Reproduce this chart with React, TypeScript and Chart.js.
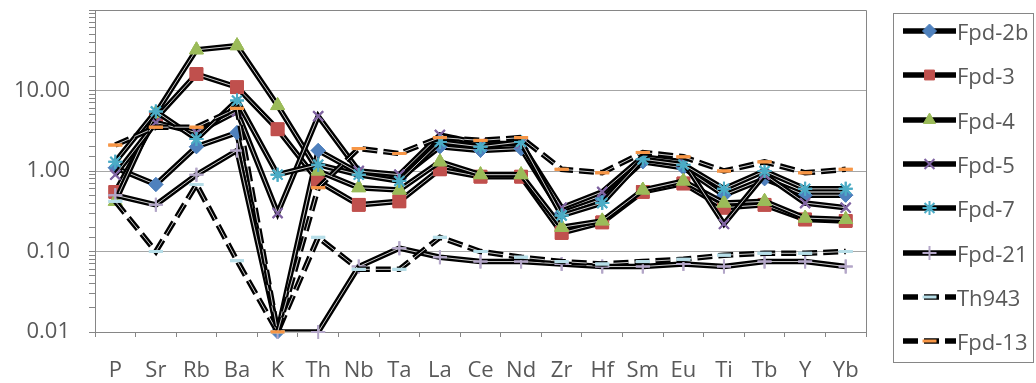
import React, { useEffect, useRef } from 'react';
import { Chart, registerables } from 'chart.js';
import { drawPoint } from 'chart.js/helpers';

Chart.register(...registerables);

const categories = ['P', 'Sr', 'Rb', 'Ba', 'K', 'Th', 'Nb', 'Ta', 'La', 'Ce', 'Nd', 'Zr', 'Hf', 'Sm', 'Eu', 'Ti', 'Tb', 'Y', 'Yb'];
const seriesNames = ['Fpd-2b', 'Fpd-3', 'Fpd-4', 'Fpd-5', 'Fpd-7', 'Fpd-21', 'Th943', 'Fpd-13'];

const fpd2b = [1.1, 0.68, 2.0, 3.0, 0.01, 1.8, 0.95, 0.8, 2.0, 1.8, 1.9, 0.3, 0.45, 1.3, 1.1, 0.5, 0.8, 0.5, 0.5];
const fpd3 = [0.55, 4.5, 16, 11, 3.3, 0.75, 0.38, 0.42, 1.05, 0.85, 0.85, 0.17, 0.23, 0.55, 0.7, 0.35, 0.38, 0.25, 0.24];
const fpd4 = [0.42, 5.2, 32, 36, 6.5, 1.0, 0.62, 0.58, 1.3, 0.9, 0.9, 0.2, 0.24, 0.58, 0.75, 0.4, 0.42, 0.26, 0.25];
const fpd5 = [0.9, 4.0, 3.0, 5.5, 0.3, 4.8, 1.0, 0.9, 2.8, 2.2, 2.2, 0.35, 0.55, 1.5, 1.3, 0.22, 0.9, 0.4, 0.35];
const fpd7 = [1.3, 5.5, 2.5, 7.5, 0.9, 1.2, 0.9, 0.75, 2.3, 2.0, 2.3, 0.28, 0.4, 1.4, 1.2, 0.6, 1.0, 0.6, 0.6];
const fpd21 = [0.5, 0.38, 0.9, 1.8, 0.01, 0.01, 0.065, 0.11, 0.085, 0.075, 0.075, 0.07, 0.065, 0.065, 0.07, 0.065, 0.075, 0.075, 0.065];
const th943 = [0.42, 0.1, 0.68, 0.077, 0.01, 0.15, 0.06, 0.06, 0.15, 0.1, 0.085, 0.075, 0.07, 0.075, 0.08, 0.09, 0.095, 0.095, 0.1];
const fpd13 = [2.1, 3.5, 3.5, 6.0, 0.01, 0.62, 1.9, 1.65, 2.6, 2.4, 2.6, 1.05, 0.95, 1.7, 1.5, 1.0, 1.3, 0.95, 1.05];

const yLabelValues = [0.01, 0.1, 1, 10];
const yGridValues = [0.1, 1, 10, 100];

const FONT = '"Open Sans", sans-serif';
const TEXT = '#595959';
const AXIS = '#868686';
const GRID = '#a6a6a6';

type SeriesStyle = { color: string; pointStyle: string; radius: number; filled: boolean; width: number; dashed: boolean };
const seriesStyles: SeriesStyle[] = [
  { color: '#4F81BD', pointStyle: 'rectRot', radius: 7, filled: true, width: 1, dashed: false },
  { color: '#C0504D', pointStyle: 'rect', radius: 9, filled: true, width: 1, dashed: false },
  { color: '#9BBB59', pointStyle: 'triangle', radius: 8, filled: true, width: 1, dashed: false },
  { color: '#8064A2', pointStyle: 'crossRot', radius: 7, filled: false, width: 2, dashed: false },
  { color: '#4BACC6', pointStyle: 'star', radius: 7, filled: false, width: 2, dashed: false },
  { color: '#B3A6C8', pointStyle: 'cross', radius: 7, filled: false, width: 2, dashed: false },
  { color: '#B7DEE8', pointStyle: 'line', radius: 7, filled: false, width: 3, dashed: true },
  { color: '#F79646', pointStyle: 'line', radius: 7, filled: false, width: 3, dashed: true },
];
const seriesValues = [fpd2b, fpd3, fpd4, fpd5, fpd7, fpd21, th943, fpd13];

const DASH = [15, 6];
const LINE_W = 5.5;

const isDecade = (v: number, list: number[]) => list.some((d) => Math.abs(v - d) / d < 1e-6);

const corePlugin = {
  id: 'whiteCore',
  afterDatasetDraw(chart: any, args: any) {
    const meta = args.meta;
    const ds = chart.data.datasets[args.index];
    const ctx = chart.ctx as CanvasRenderingContext2D;
    const area = chart.chartArea;
    ctx.save();
    ctx.beginPath();
    ctx.rect(area.left - 2, area.top - 4, area.right - area.left + 4, area.bottom - area.top + 8);
    ctx.clip();
    ctx.beginPath();
    meta.data.forEach((p: any, j: number) => {
      if (j === 0) ctx.moveTo(p.x, p.y);
      else ctx.lineTo(p.x, p.y);
    });
    ctx.setLineDash(ds.borderDash || []);
    ctx.strokeStyle = 'rgba(255,255,255,0.8)';
    ctx.lineWidth = 1;
    ctx.lineJoin = 'round';
    ctx.stroke();
    ctx.restore();
    meta.data.forEach((p: any) => p.draw(ctx, area));
  },
};

const framePlugin = {
  id: 'frame',
  beforeDatasetsDraw(chart: any) {
    const { ctx, chartArea: a } = chart;
    ctx.save();
    ctx.strokeStyle = AXIS;
    ctx.lineWidth = 1;
    ctx.beginPath();
    ctx.moveTo(a.left, Math.round(a.top) + 0.5);
    ctx.lineTo(Math.round(a.right) + 0.5, Math.round(a.top) + 0.5);
    ctx.lineTo(Math.round(a.right) + 0.5, a.bottom);
    ctx.stroke();
    ctx.restore();
  },
};

export default function App() {
  const canvasRef = useRef<HTMLCanvasElement | null>(null);
  const legendRefs = useRef<(HTMLCanvasElement | null)[]>([]);

  useEffect(() => {
    const datasets = seriesNames.map((name, i) => {
      const s = seriesStyles[i];
      return {
        label: name,
        data: seriesValues[i],
        borderColor: '#000000',
        borderWidth: LINE_W,
        borderDash: s.dashed ? DASH : [],
        tension: 0,
        fill: false,
        pointStyle: s.pointStyle,
        pointRadius: s.radius,
        pointHoverRadius: s.radius,
        pointBackgroundColor: s.filled ? s.color : 'rgba(0,0,0,0)',
        pointBorderColor: s.color,
        pointBorderWidth: s.width,
        order: seriesNames.length - i,
      };
    });

    const chart = new Chart(canvasRef.current as HTMLCanvasElement, {
      type: 'line',
      data: { labels: categories, datasets: datasets as any },
      options: {
        animation: false,
        responsive: false,
        maintainAspectRatio: false,
        layout: { padding: { top: 8, right: 14, left: 0, bottom: 0 } },
        plugins: { legend: { display: false }, tooltip: { enabled: false } },
        scales: {
          x: {
            type: 'category',
            offset: true,
            grid: { offset: true, drawOnChartArea: false, drawTicks: true, tickLength: 5, color: AXIS },
            border: { color: AXIS, width: 1 },
            ticks: { font: { family: FONT, size: 22 }, color: TEXT, padding: 21, autoSkip: false, maxRotation: 0 },
            afterFit: (s: any) => { s.height = 51; s.paddingLeft = 0; s.paddingRight = 0; },
          },
          y: {
            type: 'logarithmic',
            min: 0.01,
            max: 100,
            grid: {
              drawTicks: true,
              tickLength: 6,
              tickColor: AXIS,
              color: (c: any) => (c.tick && isDecade(c.tick.value, yGridValues) ? GRID : 'rgba(0,0,0,0)'),
            },
            border: { color: AXIS, width: 1 },
            ticks: {
              autoSkip: false,
              font: { family: FONT, size: 22 },
              color: TEXT,
              padding: 19,
              callback: (v: any) => (isDecade(Number(v), yLabelValues) ? Number(v).toFixed(2) : ''),
            },
            afterFit: (s: any) => { s.width = 95; s.paddingTop = 0; s.paddingBottom = 0; },
          },
        },
      } as any,
      plugins: [framePlugin, corePlugin],
    });

    legendRefs.current.forEach((cv, i) => {
      if (!cv) return;
      const ctx = cv.getContext('2d') as CanvasRenderingContext2D;
      const s = seriesStyles[i];
      ctx.clearRect(0, 0, cv.width, cv.height);
      ctx.save();
      ctx.strokeStyle = '#000';
      ctx.lineWidth = LINE_W;
      ctx.setLineDash(s.dashed ? DASH : []);
      ctx.beginPath();
      ctx.moveTo(0, cv.height / 2);
      ctx.lineTo(cv.width, cv.height / 2);
      ctx.stroke();
      ctx.restore();
      ctx.save();
      ctx.fillStyle = s.filled ? s.color : 'rgba(0,0,0,0)';
      ctx.strokeStyle = s.color;
      ctx.lineWidth = s.width;
      drawPoint(ctx, { pointStyle: s.pointStyle as any, rotation: 0, radius: Math.min(s.radius, 7), borderWidth: s.width }, cv.width / 2, cv.height / 2);
      ctx.restore();
    });

    return () => chart.destroy();
  }, []);

  return (
    <div style={{ position: 'fixed', left: 0, top: 0, width: 1036, height: 383, background: '#fff', overflow: 'hidden' }}>
      <canvas ref={canvasRef} width={880} height={383} style={{ position: 'absolute', left: 0, top: 0, width: 880, height: 383 }} />
      <div
        style={{
          position: 'absolute',
          left: 893,
          top: 13,
          width: 141,
          height: 350,
          border: `1px solid ${AXIS}`,
          boxSizing: 'border-box',
          background: '#fff',
        }}
      >
        {seriesNames.map((name, i) => (
          <div
            key={name}
            style={{
              position: 'absolute',
              left: 9,
              top: 17 + i * 44.3 - 16,
              height: 32,
              display: 'flex',
              alignItems: 'center',
              whiteSpace: 'nowrap',
            }}
          >
            <canvas
              ref={(el) => { legendRefs.current[i] = el; }}
              width={53}
              height={20}
              style={{ width: 53, height: 20 }}
            />
            <span style={{ fontFamily: FONT, fontSize: 22, color: TEXT, marginLeft: 1, lineHeight: '32px' }}>{name}</span>
          </div>
        ))}
      </div>
    </div>
  );
}
